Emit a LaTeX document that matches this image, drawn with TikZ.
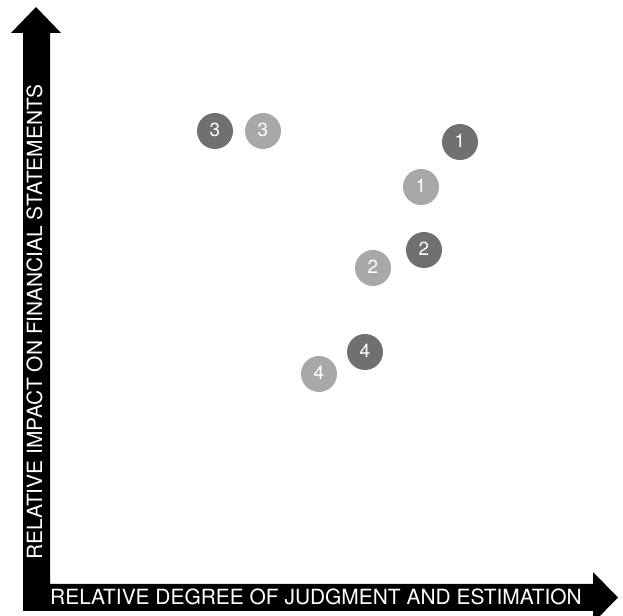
\documentclass[tikz,border=0pt]{standalone}
\usepackage{fontspec}
\setmainfont{TeX Gyre Heros}
\definecolor{dotgrayA}{RGB}{112,112,114}
\definecolor{dotgrayB}{RGB}{167,168,170}
\tikzset{
  dot/.style={circle,inner sep=0pt,minimum size=36bp,text=white,font=\fontsize{19}{19}\selectfont},
  dotdark/.style={dot,fill=dotgrayA},
  dotlight/.style={dot,fill=dotgrayB},
  axistext/.style={text=white,inner sep=0pt,anchor=base west,font=\fontsize{21}{21}\selectfont},
}
\newcommand{\dotnum}[1]{\raisebox{2bp}{#1}}
\begin{document}
\begin{tikzpicture}[line join=miter]
\useasboundingbox (0bp,0bp) rectangle (623bp,616bp);
\clip (0bp,0bp) rectangle (623bp,616bp);
%% axes
\fill[black] (23bp,5bp) -- (23bp,583bp) -- (11bp,583bp) -- (36bp,609bp) -- (61bp,583bp) -- (50bp,583bp) -- (50bp,32bp) -- (593bp,32bp) -- (593bp,44bp) -- (618bp,18.5bp) -- (593bp,-7bp) -- (593bp,5bp) -- cycle;
\node (xlabel) at (50bp,12bp) [axistext] {RELATIVE DEGREE OF JUDGMENT AND ESTIMATION};
\node (ylabel) at (42bp,56bp) [axistext,rotate=90] {RELATIVE IMPACT ON FINANCIAL STATEMENTS};
%% dots
\node (d3) at (215bp,485bp) [dotdark] {\dotnum{3}};
  \node (l3) at (263bp,485bp) [dotlight] {\dotnum{3}};
  \node (d1) at (460bp,474bp) [dotdark] {\dotnum{1}};
  \node (l1) at (421bp,429bp) [dotlight] {\dotnum{1}};
  \node (d2) at (424bp,366bp) [dotdark] {\dotnum{2}};
  \node (l2) at (373bp,348bp) [dotlight] {\dotnum{2}};
  \node (d4) at (365bp,264bp) [dotdark] {\dotnum{4}};
  \node (l4) at (319bp,242bp) [dotlight] {\dotnum{4}};
%
\end{tikzpicture}
\end{document}
